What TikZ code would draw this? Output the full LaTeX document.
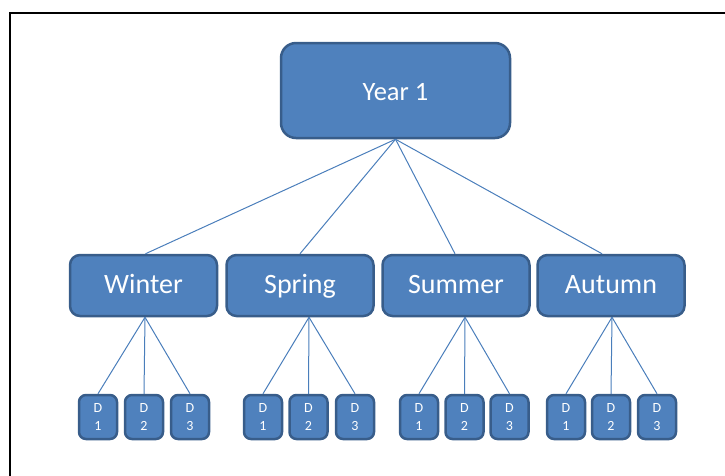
\documentclass[tikz,border=0pt]{standalone}
\usepackage{fontspec}
\setmainfont{Carlito}
\definecolor{boxfill}{HTML}{4F81BD}
\definecolor{boxline}{HTML}{385D8A}
\definecolor{conn}{HTML}{4A7EBB}
\tikzset{
  topbox/.style={draw=boxline, fill=boxfill, line width=2.5pt, rounded corners=15pt,
    minimum width=229pt, minimum height=95pt, text=white, font=\fontsize{26.5}{30}\selectfont,
    inner sep=0pt, text height=24pt, text depth=4.6pt},
  seasonbox/.style={draw=boxline, fill=boxfill, line width=2.5pt, rounded corners=10pt,
    minimum width=147pt, minimum height=61pt, text=white, font=\fontsize{28}{32}\selectfont,
    inner sep=0pt, text height=20pt, text depth=5pt},
  daybox/.style={draw=boxline, fill=boxfill, line width=2.5pt, rounded corners=7pt,
    minimum width=38pt, minimum height=44pt, text=white, font=\fontsize{14}{18}\selectfont,
    inner sep=0pt, align=center},
  conline/.style={draw=conn, line width=1pt},
  frameline/.style={draw=black, line width=2pt}
}
\begin{document}
\begin{tikzpicture}[x=1pt,y=-1pt]
\useasboundingbox (0,0) rectangle (725,475);
\clip (0,0) rectangle (725,475);
\coordinate (fa) at (10,480);
\coordinate (fb) at (10,13);
\coordinate (fc) at (730,13);
\draw[frameline] (fa) -- (fb) -- (fc);

\node[topbox] (y1) at (395.5,90.5) {Year 1};

\node[seasonbox] (w)  at (143.5,285.5) {Winter};
\node[seasonbox] (sp) at (300,285.5) {Spring};
\node[seasonbox] (su) at (456,285.5) {Summer};
\node[seasonbox] (au) at (611,285.5) {Autumn};

\node[daybox] (w1) at (98,417) {D\\1};
\node[daybox] (w2) at (144,417) {D\\2};
\node[daybox] (w3) at (190,417) {D\\3};
\node[daybox] (sp1) at (263,417) {D\\1};
\node[daybox] (sp2) at (308.5,417) {D\\2};
\node[daybox] (sp3) at (355,417) {D\\3};
\node[daybox] (su1) at (419,417) {D\\1};
\node[daybox] (su2) at (464.5,417) {D\\2};
\node[daybox] (su3) at (509.5,417) {D\\3};
\node[daybox] (au1) at (566,417) {D\\1};
\node[daybox] (au2) at (611,417) {D\\2};
\node[daybox] (au3) at (657,417) {D\\3};

\draw[conline] (y1.south) -- ([xshift=2pt]w.north);
\draw[conline] (y1.south) -- (sp.north);
\draw[conline] (y1.south) -- ([xshift=-1pt]su.north);
\draw[conline] (y1.south) -- ([xshift=-9pt]au.north);

\foreach \s/\dx in {w/1.5, sp/9, su/9, au/1}{
  \foreach \i in {1,2,3}{
    \draw[conline] ([xshift=\dx pt]\s.south) -- (\s\i.north);
  }
}
\end{tikzpicture}
\end{document}
